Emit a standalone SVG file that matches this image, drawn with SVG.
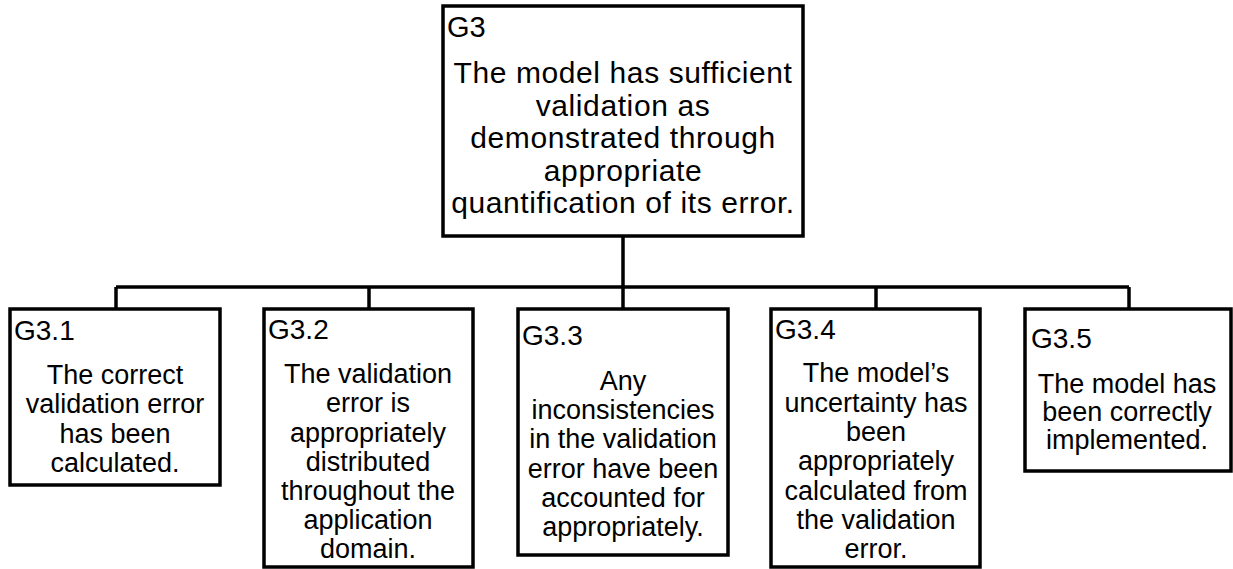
<svg xmlns="http://www.w3.org/2000/svg" width="1233" height="569" viewBox="0 0 1233 569">
<style>
.box{fill:#fff;stroke:#000;stroke-width:3.5}
.lbl{font-family:"Liberation Sans",Arial,sans-serif;font-size:28px;fill:#000}
.body{font-family:"Liberation Sans",Arial,sans-serif;font-size:27px;fill:#000;text-anchor:middle}
.big{font-size:30px;letter-spacing:0.6px}
.con{stroke:#000;stroke-width:3.5;fill:none}
</style>
<rect width="1233" height="569" fill="#fff"/>
<g id="connectors">
<line class="con" x1="623" y1="236" x2="623" y2="309"/>
<line class="con" x1="116" y1="287" x2="1129" y2="287"/>
<line class="con" x1="116" y1="287" x2="116" y2="309"/>
<line class="con" x1="369" y1="287" x2="369" y2="309"/>
<line class="con" x1="876" y1="287" x2="876" y2="309"/>
<line class="con" x1="1129" y1="287" x2="1129" y2="309"/>
</g>
<g id="G3">
<rect class="box" x="443" y="6" width="360" height="230"/>
<text class="lbl" x="447" y="37" style="font-size:29px">G3</text>
<text class="body big"><tspan x="623" y="83">The model has sufficient</tspan><tspan x="623" y="115.5">validation as</tspan><tspan x="623" y="148">demonstrated through</tspan><tspan x="623" y="180.5">appropriate</tspan><tspan x="623" y="213">quantification of its error.</tspan></text>
</g>
<g id="G3.1">
<rect class="box" x="10" y="309" width="210" height="176"/>
<text class="lbl" x="14" y="340">G3.1</text>
<text class="body"><tspan x="115" y="384">The correct</tspan><tspan x="115" y="413">validation error</tspan><tspan x="115" y="443">has been</tspan><tspan x="115" y="472">calculated.</tspan></text>
</g>
<g id="G3.2">
<rect class="box" x="264" y="309" width="209" height="258"/>
<text class="lbl" x="268" y="339">G3.2</text>
<text class="body"><tspan x="368" y="383">The validation</tspan><tspan x="368" y="412">error is</tspan><tspan x="368" y="442">appropriately</tspan><tspan x="368" y="471">distributed</tspan><tspan x="368" y="500">throughout the</tspan><tspan x="368" y="529">application</tspan><tspan x="368" y="558">domain.</tspan></text>
</g>
<g id="G3.3">
<rect class="box" x="518" y="309" width="210" height="246"/>
<text class="lbl" x="522" y="345">G3.3</text>
<text class="body"><tspan x="623" y="390">Any</tspan><tspan x="623" y="419">inconsistencies</tspan><tspan x="623" y="448">in the validation</tspan><tspan x="623" y="478">error have been</tspan><tspan x="623" y="507">accounted for</tspan><tspan x="623" y="536">appropriately.</tspan></text>
</g>
<g id="G3.4">
<rect class="box" x="771" y="309" width="209" height="258"/>
<text class="lbl" x="775" y="339">G3.4</text>
<text class="body"><tspan x="876" y="382">The model’s</tspan><tspan x="876" y="412">uncertainty has</tspan><tspan x="876" y="441">been</tspan><tspan x="876" y="470">appropriately</tspan><tspan x="876" y="500">calculated from</tspan><tspan x="876" y="529">the validation</tspan><tspan x="876" y="558">error.</tspan></text>
</g>
<g id="G3.5">
<rect class="box" x="1025" y="309" width="206" height="162"/>
<text class="lbl" x="1031" y="348">G3.5</text>
<text class="body"><tspan x="1127" y="393">The model has</tspan><tspan x="1127" y="421">been correctly</tspan><tspan x="1127" y="449">implemented.</tspan></text>
</g>
</svg>
